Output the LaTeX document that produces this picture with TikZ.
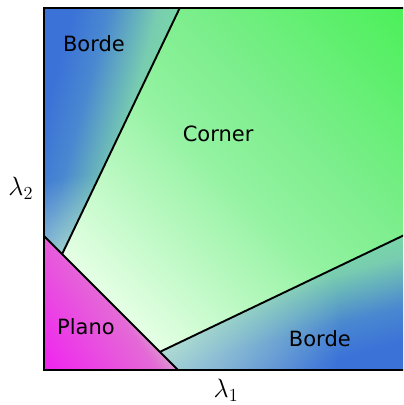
\documentclass[tikz,border=0pt]{standalone}
\usepackage{fontspec}
\setsansfont{DejaVu Sans}
\usetikzlibrary{fadings}
\definecolor{bordeblue}{HTML}{3A72D8}
\definecolor{bordemid}{HTML}{4A88D0}
\definecolor{bordeteal}{HTML}{78CCB0}
\definecolor{bordelight}{HTML}{78E0A0}
\definecolor{glowcol}{HTML}{C4EAD8}
\definecolor{plmag}{HTML}{F022F0}
\definecolor{plmid}{HTML}{E46AD6}
\definecolor{pllight}{HTML}{D8A8CC}
\definecolor{cnlight}{HTML}{E4FFE4}
\definecolor{cnmid}{HTML}{92F2A0}
\definecolor{cnhigh}{HTML}{7CEE8C}
\definecolor{cngreen}{HTML}{4CF05A}
\pgfdeclarehorizontalshading{bordeshade}{100bp}{color(0bp)=(bordeblue); color(28bp)=(bordeblue);
  color(39bp)=(bordemid); color(54bp)=(bordeteal); color(66bp)=(bordelight); color(100bp)=(bordelight)}
\pgfdeclarehorizontalshading{planoshade}{100bp}{color(0bp)=(plmag); color(15bp)=(plmag);
  color(50bp)=(plmid); color(58bp)=(pllight); color(100bp)=(pllight)}
\pgfdeclarehorizontalshading{cornershade}{100bp}{color(0bp)=(cnlight); color(25bp)=(cnlight);
  color(50bp)=(cnmid); color(62bp)=(cnhigh); color(85bp)=(cngreen); color(100bp)=(cngreen)}
\tikzfading[name=glow, inner color=transparent!0, outer color=transparent!100]
\tikzset{region/.style={font=\sffamily\fontsize{16.5}{20}\selectfont, anchor=base},
  axislabel/.style={font=\fontsize{22}{26}\selectfont},
  border/.style={line width=1.5pt}}
\begin{document}
\begin{tikzpicture}
  \clip (-1.215,-0.967) rectangle (9.917,10.22);
  \coordinate (D1) at (0,3.7);
  \coordinate (D2) at (3.7,0);
  \coordinate (P1) at (0.5,3.2);
  \coordinate (P2) at (3.2,0.5);
  \coordinate (T) at (3.75,10);
  \coordinate (R) at (10,3.75);
  \shade[shading=cornershade, shading angle=45] (P1) -- (T) -- (10,10) -- (R) -- (P2) -- cycle;
  \begin{scope}
    \clip (0,10) -- (T) -- (P1) -- (D1) -- cycle;
    \shade[shading=bordeshade, shading angle=-15] (0,10) -- (T) -- (P1) -- (D1) -- cycle;
    \fill[glowcol, path fading=glow] (1.2,2.0) circle (3.4);
  \end{scope}
  \begin{scope}
    \clip (10,0) -- (R) -- (P2) -- (D2) -- cycle;
    \shade[shading=bordeshade, shading angle=105] (10,0) -- (R) -- (P2) -- (D2) -- cycle;
    \fill[glowcol, path fading=glow] (2.2,1.2) circle (6);
  \end{scope}
  \shade[shading=planoshade, shading angle=35] (0,0) -- (D1) -- (D2) -- cycle;
  \draw[border] (D1) -- (D2);
  \draw[border] (P1) -- (T);
  \draw[border] (P2) -- (R);
  \draw[border] (0,0) rectangle (10,10);
  \node[region] (bordeTop) at (1.38,8.81) {Borde};
  \node[region] (corner) at (4.81,6.30) {Corner};
  \node[region] (plano) at (1.16,0.99) {Plano};
  \node[region] (bordeBottom) at (7.62,0.66) {Borde};
  \node[axislabel] (lamA) at (5.03,-0.55) {$\lambda_1$};
  \node[axislabel] (lamB) at (-0.64,5.03) {$\lambda_2$};
\end{tikzpicture}
\end{document}
